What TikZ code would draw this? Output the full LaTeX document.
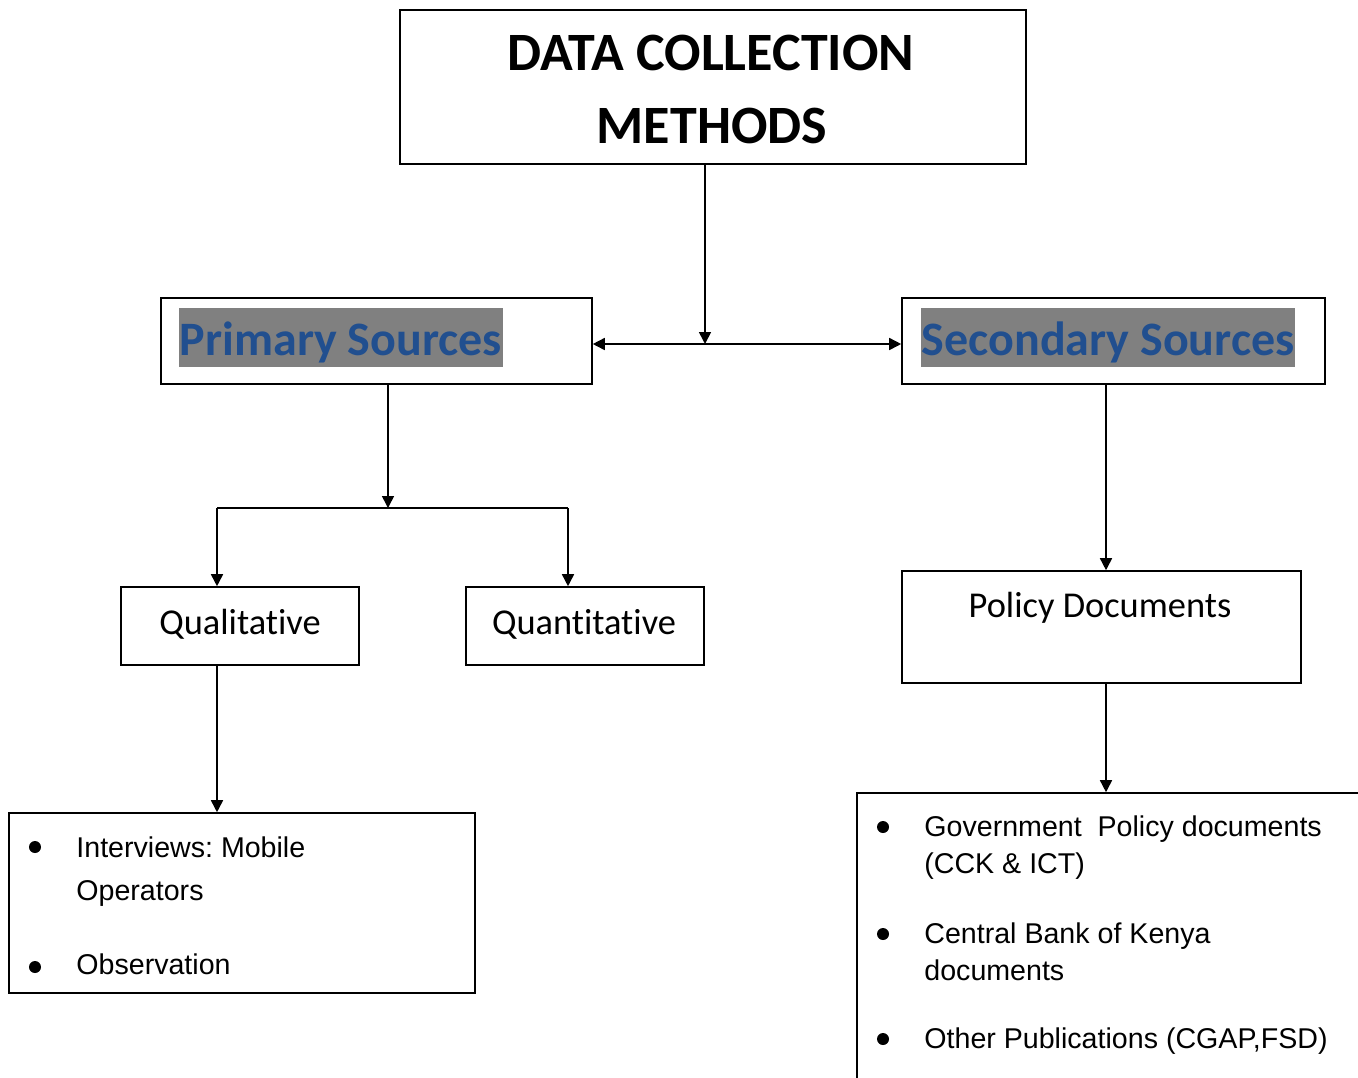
\documentclass[tikz,border=0pt]{standalone}
\usepackage{fontspec}
\setmainfont{Carlito}[Ligatures=NoCommon]
\newfontfamily\listfont{Liberation Sans}
\usetikzlibrary{arrows.meta}
\definecolor{hlgray}{RGB}{128,128,128}
\definecolor{srcblue}{RGB}{33,79,143}
\tikzset{
  box/.style={draw, line width=0.8pt, inner sep=0pt},
  hl/.style={fill=hlgray, text=srcblue, anchor=base, inner xsep=0.5pt, inner ysep=0pt,
    text height=23.5pt, text depth=6pt, font=\fontsize{24}{24}\bfseries\selectfont},
  ttl/.style={anchor=base, inner sep=0pt, font=\fontsize{27}{27}\bfseries\selectfont},
  lbl/.style={anchor=base, inner sep=0pt, font=\fontsize{18.2}{18.2}\selectfont},
  item/.style={anchor=base west, inner sep=0pt, font=\listfont\fontsize{14.3}{14.3}\selectfont},
  dot/.style={circle, fill, inner sep=0pt, minimum size=6pt},
  arr/.style={-{Triangle[length=6pt,width=6pt]}, line width=0.8pt},
  dblarr/.style={{Triangle[length=6pt,width=6pt]}-{Triangle[length=6pt,width=6pt]}, line width=0.8pt}
}
% box from pixel corners (x1,y1) to (x2,y2)
\newcommand{\boxat}[5]{\node[box, minimum width={(#4-#2)*0.5pt}, minimum height={(#5-#3)*0.5pt}] (#1) at ({(#2+#4)/2},{(#3+#5)/2}) {};}
\newcommand{\bulletat}[3]{\node[dot] (#1) at (#2,#3) {};}
\frenchspacing

\begin{document}
\begin{tikzpicture}[x=0.5pt, y=-0.5pt]
    \useasboundingbox (0,0) rectangle (1358,1077);
    \clip (0,0) rectangle (1358,1077);
    % top
    \boxat{methods}{400}{10}{1026}{164}
    \node[ttl] (ttla) at (711,70) {DATA COLLECTION};
    \node[ttl] (ttlb) at (712,143) {METHODS};
    % sources
    \boxat{primary}{161}{298}{592}{384}
    \node[hl] (primlbl) at (341,355) {Primary Sources};
    \boxat{secondary}{902}{298}{1325}{384}
    \node[hl] (seclbl) at (1108,355) {Secondary Sources};
    \coordinate (split) at (705,344);
    \draw[arr] (methods.south -| split) -- (split);
    \draw[dblarr] (primary.east |- split) -- (secondary.west |- split);
    % primary branch
    \boxat{quali}{121}{587}{359}{665}
    \node[lbl] (qualilbl) at (240,634) {Qualitative};
    \boxat{quanti}{466}{587}{704}{665}
    \node[lbl] (quantilbl) at (584,634) {Quantitative};
    \coordinate (fork) at (388,508);
    \coordinate (forkl) at (217,508);
    \coordinate (forkr) at (568,508);
    \draw[arr] (primary.south -| fork) -- (fork);
    \draw[line width=0.8pt] (forkl) -- (forkr);
    \draw[arr] (forkl) -- (quali.north -| forkl);
    \draw[arr] (forkr) -- (quanti.north -| forkr);
    \boxat{qualilist}{9}{813}{475}{993}
    \draw[arr] (quali.south -| forkl) -- (qualilist.north -| forkl);
    \bulletat{ba}{35}{847}
    \node[item] (ia) at (76,857) {Interviews: Mobile};
    \node[item] (ib) at (76,900) {Operators};
    \bulletat{bb}{35}{967}
    \node[item] (ic) at (76,974) {Observation};
    % secondary branch
    \boxat{policy}{902}{571}{1301}{683}
    \node[lbl] (policylbl) at (1100,617) {Policy Documents};
    \draw[arr] (secondary.south -| 1106,0) -- (policy.north -| 1106,0);
    \boxat{doclist}{857}{793}{1420}{1110}
    \draw[arr] (policy.south -| 1106,0) -- (doclist.north -| 1106,0);
    \bulletat{bc}{883}{827}
    \node[item] (id) at (924,836) {Government\ \ Policy documents};
    \node[item] (ie) at (924,873) {(CCK \& ICT)};
    \bulletat{bd}{883}{934}
    \node[item] (if) at (924,943) {Central Bank of Kenya};
    \node[item] (ig) at (924,980) {documents};
    \bulletat{be}{883}{1039}
    \node[item] (ih) at (924,1048) {Other Publications (CGAP,FSD)};
\end{tikzpicture}
\end{document}
